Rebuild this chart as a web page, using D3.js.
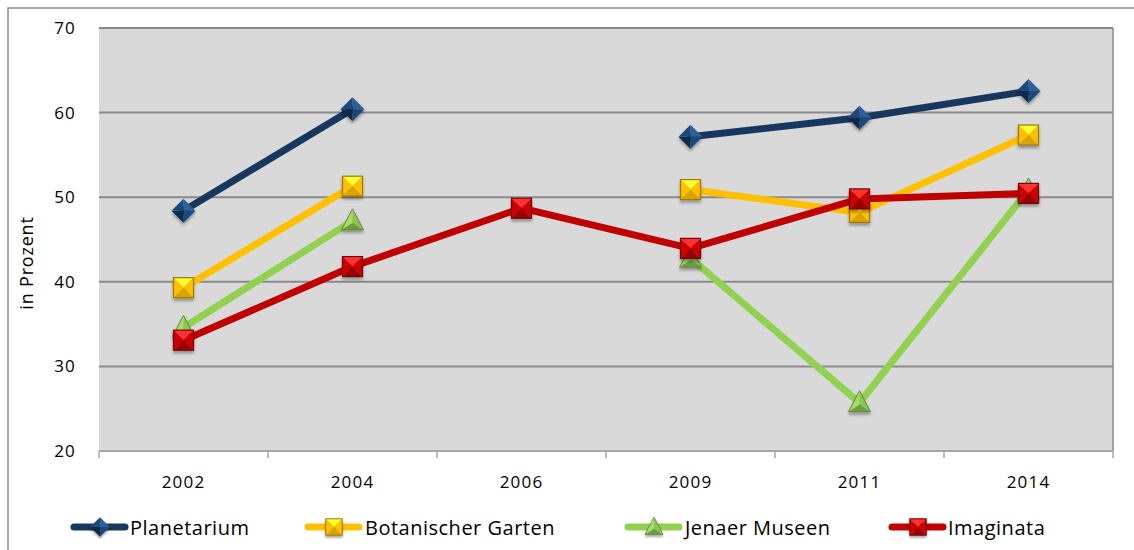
<!DOCTYPE html>
<html>
<head>
<meta charset="utf-8">
<script src="https://cdn.jsdelivr.net/npm/d3@7/dist/d3.min.js"></script>
<style>
  html, body { margin: 0; padding: 0; background: #fff; }
  svg { display: block; font-family: "Open Sans", "DejaVu Sans", sans-serif; }
</style>
</head>
<body>
<svg id="chart" width="1134" height="550"></svg>
<script>
// Besucherzufriedenheit der Jenaer Einrichtungen, in Prozent
const years = ["2002", "2004", "2006", "2009", "2011", "2014"];
const planetarium = [48.4, 60.4, null, 57.15, 59.4, 62.55];
const botanischerGarten = [39.3, 51.3, null, 50.9, 48.2, 57.35];
const jenaerMuseen = [34.6, 47.2, null, 42.8, 25.7, 50.85];
const imaginata = [33.1, 41.8, 48.7, 43.95, 49.8, 50.45];
const yTicks = [20, 30, 40, 50, 60, 70];

const series = [
  { name: "Planetarium", values: planetarium, line: "#17375e", fill: "#1f497d", light: "#2f5f96", dark: "#10294a", shape: "diamond" },
  { name: "Botanischer Garten", values: botanischerGarten, line: "#ffc000", fill: "#ffc000", light: "#ffff33", dark: "#d9a300", edge: "#a07800", shape: "square" },
  { name: "Jenaer Museen", values: jenaerMuseen, line: "#92d050", fill: "#8bc653", light: "#a6dc6c", dark: "#6e9e3c", edge: "#5f8a33", shape: "triangle" },
  { name: "Imaginata", values: imaginata, line: "#c00000", fill: "#cc0000", light: "#ff3333", dark: "#990000", edge: "#7a0000", shape: "square" }
];

const svg = d3.select("#chart");
const plot = { left: 99, top: 28, right: 1113, bottom: 451 };

const defs = svg.append("defs");
const shadow = defs.append("filter").attr("id", "shadow")
  .attr("x", "-50%").attr("y", "-50%").attr("width", "200%").attr("height", "200%");
shadow.append("feDropShadow").attr("dx", 0).attr("dy", 2.5).attr("stdDeviation", 1.6)
  .attr("flood-color", "#000").attr("flood-opacity", 0.35);

// Outer chart frame
svg.append("rect").attr("x", 8).attr("y", 8).attr("width", 1140).attr("height", 560)
  .attr("fill", "#fff").attr("stroke", "#8c8c8c").attr("stroke-width", 1.5);

const x = d3.scaleBand().domain(years).range([plot.left, plot.right]).padding(0);
const y = d3.scaleLinear().domain([20, 70]).range([plot.bottom, plot.top]);

// Plot area
svg.append("rect").attr("x", plot.left).attr("y", plot.top)
  .attr("width", plot.right - plot.left).attr("height", plot.bottom - plot.top)
  .attr("fill", "#d9d9d9");

// Horizontal gridlines
svg.append("g").selectAll("line").data(yTicks.slice(1)).join("line")
  .attr("x1", plot.left).attr("x2", plot.right)
  .attr("y1", d => y(d)).attr("y2", d => y(d))
  .attr("stroke", "#8a8a8a").attr("stroke-width", 2);

// Right edge of the plot area
svg.append("line").attr("x1", plot.right).attr("x2", plot.right)
  .attr("y1", plot.top).attr("y2", plot.bottom)
  .attr("stroke", "#8a8a8a").attr("stroke-width", 1.5);

// Y axis labels
const yAxis = d3.axisLeft(y).tickValues(yTicks).tickSize(0).tickPadding(23);
const gy = svg.append("g").attr("transform", `translate(${plot.left},0)`).call(yAxis);
gy.select(".domain").remove();
gy.selectAll("text").attr("font-size", 17).attr("letter-spacing", 1.2).attr("fill", "#000")
  .attr("font-family", "'Open Sans', sans-serif");

// X axis with ticks between categories
const gx = svg.append("g").attr("transform", `translate(0,${plot.bottom})`);
gx.append("line").attr("x1", plot.left).attr("x2", plot.right)
  .attr("stroke", "#a6a6a6").attr("stroke-width", 2);
const boundaries = years.map(d => x(d)).concat([plot.right]);
gx.selectAll("line.tick").data(boundaries).join("line").attr("class", "tick")
  .attr("x1", d => d).attr("x2", d => d).attr("y1", 0).attr("y2", 7)
  .attr("stroke", "#a6a6a6").attr("stroke-width", 1.5);
gx.selectAll("text").data(years).join("text")
  .attr("x", d => x(d) + x.bandwidth() / 2).attr("y", 37)
  .attr("text-anchor", "middle").attr("font-size", 17).attr("letter-spacing", 1.2)
  .attr("fill", "#000")
  .text(d => d);

// Y axis title
svg.append("text").attr("transform", `translate(33,263) rotate(-90)`)
  .attr("text-anchor", "middle").attr("font-size", 18).attr("letter-spacing", 0.8)
  .attr("fill", "#000")
  .text("in Prozent");

// Bevelled marker shapes
function drawMarker(g, s, cx, cy, scale) {
  const m = g.append("g").attr("transform", `translate(${cx},${cy}) scale(${scale})`)
    .attr("filter", "url(#shadow)");
  if (s.shape === "square") {
    const h = 10;
    const c = [[-h, -h], [h, -h], [h, h], [-h, h]];
    const faces = [
      { p: [c[0], c[1]], col: s.light },
      { p: [c[1], c[2]], col: s.fill },
      { p: [c[2], c[3]], col: s.dark },
      { p: [c[3], c[0]], col: s.fill }
    ];
    faces.forEach(f => m.append("path")
      .attr("d", `M${f.p[0]}L${f.p[1]}L0,0Z`).attr("fill", f.col));
    m.append("rect").attr("x", -h).attr("y", -h).attr("width", 2 * h).attr("height", 2 * h)
      .attr("fill", "none").attr("stroke", s.edge).attr("stroke-width", 1.2);
  } else if (s.shape === "diamond") {
    const h = 12;
    const c = [[0, -h], [h, 0], [0, h], [-h, 0]];
    const cols = [s.light, s.fill, s.dark, s.fill];
    c.forEach((p, i) => m.append("path")
      .attr("d", `M${p}L${c[(i + 1) % 4]}L0,0Z`).attr("fill", cols[i]));
  } else {
    const w = 11, top = -12, base = 9;
    const a = [0, top], b = [w, base], d = [-w, base];
    m.append("path").attr("d", `M${a}L${b}L0,2Z`).attr("fill", s.fill);
    m.append("path").attr("d", `M${a}L0,2L${d}Z`).attr("fill", s.light);
    m.append("path").attr("d", `M${d}L0,2L${b}Z`).attr("fill", s.dark);
    m.append("path").attr("d", `M${a}L${b}L${d}Z`).attr("fill", "none")
      .attr("stroke", s.edge).attr("stroke-width", 1);
  }
}

const line = d3.line()
  .defined(d => d.v !== null)
  .x(d => x(d.year) + x.bandwidth() / 2)
  .y(d => y(d.v));

series.forEach(s => {
  const pts = years.map((year, i) => ({ year, v: s.values[i] }));
  const g = svg.append("g");
  g.append("path").datum(pts).attr("d", line)
    .attr("fill", "none").attr("stroke", s.line).attr("stroke-width", 7)
    .attr("stroke-linejoin", "round").attr("stroke-linecap", "round");
  pts.filter(d => d.v !== null).forEach(d =>
    drawMarker(g, s, x(d.year) + x.bandwidth() / 2, y(d.v), 1));
});

// Legend
const legendPos = [
  { lx: 71, tx: 130 },
  { lx: 305, tx: 365 },
  { lx: 625, tx: 685 },
  { lx: 889, tx: 948 }
];
const ly = 527;
series.forEach((s, i) => {
  const p = legendPos[i];
  const g = svg.append("g");
  g.append("line").attr("x1", p.lx + 3).attr("x2", p.lx + 54).attr("y1", ly).attr("y2", ly)
    .attr("stroke", s.line).attr("stroke-width", 7).attr("stroke-linecap", "round");
  drawMarker(g, s, p.lx + 29, ly, 0.82);
  g.append("text").attr("x", p.tx).attr("y", ly + 7.5)
    .attr("font-size", 20).attr("letter-spacing", 0.5).attr("fill", "#000").text(s.name);
});
</script>
</body>
</html>
